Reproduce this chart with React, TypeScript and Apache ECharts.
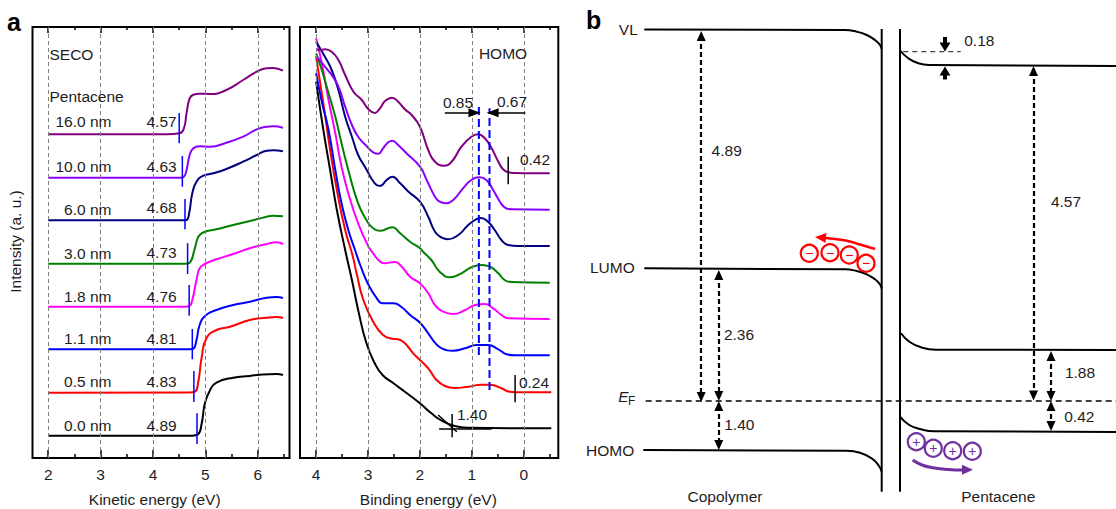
import React, { useEffect, useRef } from "react";
import * as echarts from "echarts";

const FONT = "'Liberation Sans', Arial, sans-serif";
const INK = "#1f1c1d";

// ---- Panel a, left: secondary electron cut-off (kinetic energy eV, intensity a.u.)
const seco00 = [[2, 22.3], [4.75, 22.3], [4.86, 23.7], [4.93, 34.7], [4.99, 54.7], [5.09, 68], [5.21, 75.3], [5.53, 80.3], [5.85, 82], [6.04, 83.3], [6.36, 84], [6.48, 83]];
const seco05 = [[2, 65.3], [4.7, 65.5], [4.8, 66.3], [4.86, 74.7], [4.93, 101], [5.02, 119.7], [5.21, 128], [5.47, 131.3], [5.85, 138], [6.17, 140.3], [6.36, 141], [6.48, 140]];
const seco11 = [[2, 108.7], [4.7, 108.7], [4.77, 109.3], [4.83, 118], [4.89, 133], [4.99, 142], [5.21, 148], [5.53, 153], [5.85, 156.3], [6.17, 160.3], [6.36, 161], [6.48, 160]];
const seco18 = [[2, 151.3], [4.62, 151.3], [4.7, 152.3], [4.75, 158], [4.83, 178], [4.89, 189.7], [4.99, 194], [5.21, 198.7], [5.53, 204], [5.85, 209.7], [6.17, 214], [6.36, 215.7], [6.48, 214]];
const seco30 = [[2, 194.3], [4.62, 194.3], [4.7, 195.3], [4.79, 208], [4.84, 218], [4.89, 223], [4.99, 226.3], [5.21, 228.7], [5.53, 233], [5.85, 237], [6.17, 241.3], [6.29, 242.3], [6.48, 241.7]];
const seco60 = [[2, 237.7], [4.58, 237.7], [4.64, 238], [4.69, 244.7], [4.75, 264.7], [4.83, 276.3], [4.96, 282.3], [5.15, 284.7], [5.4, 289], [5.72, 296.3], [5.98, 303], [6.17, 307.3], [6.29, 307.7], [6.48, 306.7]];
const seco100 = [[2, 280.3], [4.52, 280.3], [4.59, 281.3], [4.64, 288], [4.7, 303], [4.77, 309.7], [4.89, 311.7], [5.09, 311.3], [5.4, 315.3], [5.72, 321.3], [5.98, 328.7], [6.17, 331.3], [6.29, 331.7], [6.48, 330.3]];
const seco160 = [[2, 323.7], [4.26, 323.7], [4.51, 324.7], [4.59, 329.7], [4.64, 344.7], [4.7, 359.7], [4.77, 363.3], [4.89, 364.3], [5.09, 364], [5.4, 368], [5.72, 378], [5.98, 386.3], [6.17, 389.7], [6.29, 390], [6.48, 387.3]];

// ---- Panel a, right: HOMO region (binding energy eV, intensity a.u.)
const homo00 = [[4, 376.3], [3.86, 328], [3.73, 288], [3.6, 248], [3.44, 208], [3.31, 178], [3.19, 148], [3.03, 114.7], [2.87, 94.7], [2.72, 83], [2.51, 74.7], [2.29, 66.3], [2, 54.7], [1.78, 44.7], [1.58, 37.3], [1.33, 32], [1.07, 30.3], [-0.53, 29.7]];
const homo05 = [[4, 401.3], [3.86, 354.7], [3.73, 308], [3.6, 268], [3.44, 228], [3.3, 203], [3.22, 184.7], [3.09, 158], [2.9, 136.3], [2.71, 123], [2.54, 119.3], [2.42, 118.7], [2.29, 114.7], [2.13, 104.7], [2, 98], [1.84, 89.7], [1.68, 78], [1.52, 72], [1.33, 70], [1.07, 71.3], [0.81, 73.3], [0.65, 73.3], [0.43, 69.7], [0.27, 66.3], [0.04, 65.7], [-0.53, 65.7]];
const homo11 = [[4, 384.7], [3.89, 356.3], [3.76, 328], [3.63, 288], [3.51, 254.7], [3.38, 228], [3.25, 208], [3.15, 193], [2.99, 173], [2.83, 159.7], [2.72, 154.7], [2.51, 154.7], [2.35, 150.7], [2.19, 143], [2, 135.3], [1.84, 124.7], [1.71, 115.3], [1.58, 109.7], [1.36, 107.3], [1.13, 109.7], [0.91, 113], [0.69, 113], [0.49, 108.7], [0.33, 103.7], [0.17, 102.7], [-0.5, 102.7]];
const homo18 = [[4, 419.7], [3.89, 394.7], [3.76, 358], [3.63, 324.7], [3.51, 291.3], [3.38, 264.7], [3.19, 234.7], [2.99, 211.3], [2.9, 204.7], [2.8, 198], [2.69, 194.7], [2.48, 196], [2.35, 191.3], [2.19, 181.3], [2, 174.7], [1.84, 164.7], [1.71, 153], [1.55, 146.3], [1.36, 144], [1.13, 148], [0.94, 153], [0.75, 154], [0.59, 149.7], [0.43, 143], [0.3, 139.7], [-0.5, 139]];
const homo30 = [[4, 404.7], [3.89, 388], [3.76, 364.7], [3.63, 341.3], [3.51, 314.7], [3.38, 288], [3.19, 254.7], [3.03, 238], [2.9, 229.7], [2.75, 227.3], [2.64, 229.3], [2.53, 230.7], [2.38, 224.7], [2.19, 216.3], [2, 209.7], [1.94, 206.3], [1.78, 198], [1.62, 186.3], [1.42, 180.7], [1.2, 184.7], [1.01, 190.7], [0.81, 193], [0.65, 191.3], [0.49, 184.7], [0.37, 178], [0.24, 176], [-0.5, 175.3]];
const homo60 = [[4, 416.3], [3.83, 401.3], [3.7, 388], [3.57, 368], [3.44, 341.3], [3.31, 321.3], [3.19, 303], [3.06, 291.3], [2.87, 274.7], [2.77, 272], [2.64, 278], [2.53, 281.3], [2.38, 274.7], [2.22, 266.3], [2, 256.3], [1.84, 241.3], [1.71, 226.3], [1.58, 220.3], [1.46, 218.7], [1.26, 223], [1.07, 233], [0.94, 238], [0.83, 240], [0.69, 236.3], [0.56, 228], [0.43, 218], [0.3, 213], [0.11, 212], [-0.5, 212]];
const homo100 = [[4, 402], [3.83, 391.3], [3.7, 383], [3.57, 371.3], [3.44, 351.3], [3.31, 333], [3.19, 321.3], [3.03, 312], [2.9, 305.7], [2.8, 304.3], [2.71, 309.7], [2.61, 315.7], [2.53, 317.3], [2.42, 313], [2.26, 304.7], [2, 291.3], [1.87, 278], [1.71, 261.3], [1.62, 256.3], [1.5, 254.7], [1.36, 258], [1.17, 269.7], [1.01, 278], [0.85, 280.7], [0.72, 278], [0.59, 268], [0.46, 256.3], [0.37, 250.7], [0.24, 248.7], [-0.5, 248.3]];
const homo160 = [[4, 408.7], [3.92, 408], [3.83, 408.7], [3.7, 406.3], [3.57, 398], [3.44, 383], [3.28, 366.3], [3.12, 358], [2.99, 348.7], [2.87, 345], [2.77, 349.7], [2.67, 357], [2.54, 360.3], [2.42, 356.3], [2.29, 348.7], [2.16, 343], [2, 331.3], [1.84, 308], [1.71, 296.3], [1.54, 292.3], [1.39, 296.3], [1.2, 311.3], [1.01, 321.3], [0.88, 323.7], [0.75, 319.7], [0.62, 309.7], [0.49, 296.3], [0.4, 288.7], [0.3, 285.7], [0.17, 285], [-0.21, 284.7], [-0.5, 284.7]];

const curveColors = ["#000000", "#ff0000", "#0000ff", "#ff00ff", "#008000", "#000080", "#8a00ff", "#800080"];
const secoCurves = [seco00, seco05, seco11, seco18, seco30, seco60, seco100, seco160];
const homoCurves = [homo00, homo05, homo11, homo18, homo30, homo60, homo100, homo160];

const thicknessLabels = ["16.0 nm", "10.0 nm", "6.0 nm", "3.0 nm", "1.8 nm", "1.1 nm", "0.5 nm", "0.0 nm"];
const thicknessY = [121.7, 166.7, 209.3, 253, 296.7, 338.3, 381.7, 425];
const secoValues = ["4.57", "4.63", "4.68", "4.73", "4.76", "4.81", "4.83", "4.89"];
const secoValueY = [121.7, 166, 207.5, 252.7, 296.7, 338.3, 381.7, 425];

// Cut-off markers: x (eV), y from, y to
const cutoffMarks = [[4.5, 314.7, 345], [4.56, 271.3, 302], [4.61, 228.7, 259], [4.66, 184, 214.7], [4.69, 142.3, 173], [4.75, 98.7, 129], [4.78, 56, 87], [4.84, 14, 44.7]];
const kineticMajor = [2, 3, 4, 5, 6];
const kineticMinor = [2.5, 3.5, 4.5, 5.5, 6.5];
const bindingMajor = [4, 3, 2, 1, 0];
const bindingMinor = [3.5, 2.5, 1.5, 0.5, -0.5];

const homoEdgeDashes = [[0.865, 103, 351.3], [0.66, 68, 349.7]];
const homoBlackLines = [
  [[0.3, 273.7], [0.3, 301.3]],
  [[0.167, 55.7], [0.167, 83]],
  [[1.38, 20.7], [1.38, 44]],
  [[1.63, 29], [0.62, 29]],
  [[1.65, 43], [1.29, 26.3]],
];

// ---- Panel b: schematic band diagram (schematic units on a hidden scale)
const vlCopolymer = [[644.3, 29.5], [845, 30], [856.7, 31.7], [866.7, 35], [875, 40], [880, 45], [881.7, 49.3]];
const lumoCopolymer = [[644.3, 268.3], [845, 269.3], [856.7, 271], [866.7, 274.3], [875, 279.3], [880, 284.3], [881.7, 288.6]];
const homoCopolymer = [[643.3, 450], [846.7, 450.7], [860, 452.7], [871.7, 458.3], [878.3, 465], [881.7, 471.7]];
const vlPentacene = [[899.7, 50], [908.3, 58.3], [918.3, 63.3], [930, 65], [1116, 66]];
const lumoPentacene = [[901, 333.3], [909.3, 341.7], [921, 347.3], [936, 349.7], [1116, 350]];
const homoPentacene = [[900, 416.7], [909.3, 425], [921, 429.3], [934.3, 431.3], [1116, 432]];
const interfaceLines = [[[881.7, 29], [881.7, 491.7]], [[900, 29], [900, 491.7]]];
const fermiLevel = [[645.7, 401], [1116, 401]];
const vlDash = [[903.3, 51.7], [960.7, 51.7]];
const gapArrows = [
  [[701.2, 36], [701.2, 397]],
  [[718.8, 275], [718.8, 396]],
  [[718.8, 406], [718.8, 445]],
  [[1033.5, 71], [1033.5, 395.5]],
  [[1051, 356], [1051, 396]],
  [[1051, 406], [1051, 426]],
];
const thickShafts = [
  [[945, 37], [945, 46]],
  [[945, 79.5], [945, 72]],
];
const thickHeadDown = [945, 47];
const thickHeadUp = [945, 71];
const electrons = [[809.3, 253.3], [830, 252.7], [849.3, 255], [866, 263.3]];
const holes = [[916.3, 441.7], [933.3, 448.3], [952.7, 450.7], [972.3, 451.3]];
const electronFlow = [[875, 249], [860, 244.5], [846.7, 240.7], [830, 238.5], [822, 237.7]];
const holeFlow = [[912.7, 460], [922, 465], [932.7, 467.7], [948, 469.5], [963, 470]];

function xAxes(gridIndex: number, min: number, max: number, inverse: boolean, major: number[], minor: number[]) {
  const common = { type: "value", gridIndex, min, max, inverse, axisLine: { show: false }, splitLine: { show: false } };
  const tick = (values: number[], length: number) => ({ show: true, inside: true, length, customValues: values, lineStyle: { color: "#000", width: 1.5 } });
  return [
    { ...common, position: "bottom", axisTick: tick(major, 8), axisLabel: { show: true, customValues: major, margin: 8, color: INK, fontFamily: FONT, fontSize: 15.5 } },
    { ...common, position: "bottom", axisTick: tick(minor, 4), axisLabel: { show: false } },
    { ...common, position: "top", axisTick: tick(major, 6), axisLabel: { show: false } },
    { ...common, position: "top", axisTick: tick(minor, 3), axisLabel: { show: false } },
  ];
}

function curve(data: number[][], color: string, xAxisIndex: number, yAxisIndex: number, width = 2, smooth: number | boolean = 0.5) {
  return { type: "line", data, xAxisIndex, yAxisIndex, smooth, showSymbol: false, symbol: "none", silent: true, z: 3, lineStyle: { color, width } };
}
function straight(data: number[][], color: string, xAxisIndex: number, yAxisIndex: number, width = 1.5, type: any = "solid") {
  return { type: "line", data, xAxisIndex, yAxisIndex, showSymbol: false, symbol: "none", silent: true, z: 4, lineStyle: { color, width, type } };
}
function gridLines(values: number[], xAxisIndex: number, yAxisIndex: number) {
  return {
    type: "line", data: [], xAxisIndex, yAxisIndex, silent: true, z: 1,
    markLine: { silent: true, symbol: "none", animation: false, label: { show: false }, lineStyle: { color: "#7f7f7f", width: 1, type: [4, 3] }, data: values.map((v) => ({ xAxis: v })) },
  };
}
function arrows(pairs: number[][][], width: number, type: any, size: any) {
  return {
    type: "line", data: [], xAxisIndex: 8, yAxisIndex: 2, silent: true, z: 5,
    markLine: {
      silent: true, animation: false, symbol: ["triangle", "triangle"], symbolSize: size, precision: 3,
      label: { show: false }, lineStyle: { color: "#000", width, type },
      data: pairs.map(([a, b]) => [{ coord: a }, { coord: b }]),
    },
  };
}
function charges(points: number[][], color: string, sign: string) {
  return {
    type: "scatter", data: points, xAxisIndex: 8, yAxisIndex: 2, symbol: "circle", symbolSize: 17, silent: true, z: 6,
    itemStyle: { color: "rgba(255,255,255,0)", borderColor: color, borderWidth: 2.2, opacity: 1 },
    label: { show: true, position: "inside", formatter: sign, color, fontFamily: FONT, fontSize: 14 },
  };
}
function head(point: number[], color: string, rotate: number, size: number[] = [10, 11]) {
  return { type: "scatter", data: [point], xAxisIndex: 8, yAxisIndex: 2, symbol: "triangle", symbolSize: size, symbolRotate: rotate, silent: true, z: 6, itemStyle: { color, opacity: 1 } };
}
function txt(text: string, x: number, y: number, extra: any = {}) {
  const { size = 15.5, weight = "normal", style = "normal", align = "left", rotation = 0, fill = INK } = extra;
  return {
    type: "text", x, y, rotation, silent: true, z: 20,
    style: { text, x: 0, y: 0, fill, textAlign: align, textVerticalAlign: "middle", font: `${style} ${weight} ${size}px ${FONT}` },
  };
}

export default function App() {
  const ref = useRef<HTMLDivElement>(null);
  useEffect(() => {
    document.body.style.margin = "0";
    document.body.style.background = "#fff";
    const chart = echarts.init(ref.current!, undefined, { renderer: "svg" });
    const series: any[] = [
      gridLines(kineticMajor, 0, 0),
      gridLines(bindingMajor, 4, 1),
      ...secoCurves.map((d, i) => curve(d, curveColors[i], 0, 0)),
      ...homoCurves.map((d, i) => curve(d, curveColors[i], 4, 1)),
      ...cutoffMarks.map(([x, a, b]) => straight([[x, a], [x, b]], "#0000ff", 0, 0, 1.5)),
      ...homoEdgeDashes.map(([x, a, b]) => straight([[x, a], [x, b]], "#0000ff", 4, 1, 2, "dashed")),
      ...homoBlackLines.map((d) => straight(d, "#000", 4, 1, 1.5)),
      {
        type: "line", data: [], xAxisIndex: 4, yAxisIndex: 1, silent: true, z: 5,
        markLine: {
          silent: true, animation: false, symbol: ["none", "triangle"], symbolSize: [9, 12], precision: 3, label: { show: false },
          lineStyle: { color: "#000", width: 1.5, type: "solid" },
          data: [
            [{ coord: [1.52, 345.3] }, { coord: [0.95, 345.3] }],
            [{ coord: [-0.03, 345.3] }, { coord: [0.6, 345.3] }],
          ],
        },
      },
      curve(vlCopolymer, "#000", 8, 2),
      curve(lumoCopolymer, "#000", 8, 2),
      curve(homoCopolymer, "#000", 8, 2),
      curve(vlPentacene, "#000", 8, 2),
      curve(lumoPentacene, "#000", 8, 2),
      curve(homoPentacene, "#000", 8, 2),
      ...interfaceLines.map((d) => straight(d, "#000", 8, 2, 2)),
      straight(fermiLevel, "#000", 8, 2, 1.5, [6, 4]),
      straight(vlDash, "#444", 8, 2, 1.2, [5, 4]),
      arrows(gapArrows, 2.2, [5, 3], [9, 10]),
      ...thickShafts.map((d) => straight(d, "#000", 8, 2, 4)),
      head(thickHeadDown, "#000", 180, [11, 9]),
      head(thickHeadUp, "#000", 0, [11, 9]),
      charges(electrons, "#ff0000", "−"),
      charges(holes, "#7030a0", "+"),
      curve(electronFlow, "#ff0000", 8, 2, 2.5),
      head([820.5, 237.5], "#ff0000", 85),
      curve(holeFlow, "#7030a0", 8, 2, 3),
      head([967.5, 469.8], "#7030a0", -90),
    ];
    const graphic = [
      txt("a", 7, 22, { size: 25, weight: "bold", fill: "#000" }),
      txt("b", 586, 20, { size: 25, weight: "bold", fill: "#000" }),
      txt("SECO", 49.5, 54),
      txt("Pentacene", 49.5, 96),
      txt("HOMO", 503, 53, { align: "center" }),
      ...thicknessLabels.map((s, i) => txt(s, 111.5, thicknessY[i], { align: "right" })),
      ...secoValues.map((s, i) => txt(s, 146.5, secoValueY[i])),
      txt("0.85", 458, 102, { align: "center" }),
      txt("0.67", 512, 101, { align: "center" }),
      txt("0.42", 535, 159, { align: "center" }),
      txt("0.24", 534, 382, { align: "center" }),
      txt("1.40", 472, 414, { align: "center" }),
      txt("Kinetic energy (eV)", 154.7, 499, { align: "center" }),
      txt("Binding energy (eV)", 428.3, 499, { align: "center" }),
      txt("Intensity (a. u.)", 15, 241.5, { align: "center", rotation: Math.PI / 2 }),
      txt("VL", 628.3, 29.3, { align: "center" }),
      txt("LUMO", 612.3, 267.7, { align: "center" }),
      txt("HOMO", 634.3, 450.7, { align: "right" }),
      txt("E", 623.3, 396, { align: "center", style: "italic" }),
      txt("F", 631.7, 401, { align: "center", size: 12 }),
      txt("4.89", 726.7, 150.7, { align: "center" }),
      txt("2.36", 739, 334, { align: "center" }),
      txt("1.40", 739.3, 424, { align: "center" }),
      txt("4.57", 1066, 201, { align: "center" }),
      txt("1.88", 1080, 372.7, { align: "center" }),
      txt("0.42", 1079.3, 416, { align: "center" }),
      txt("0.18", 979.3, 40, { align: "center" }),
      txt("Copolymer", 725, 496.7, { align: "center" }),
      txt("Pentacene", 998.3, 496.7, { align: "center" }),
    ];
    chart.setOption({
      animation: false,
      backgroundColor: "#fff",
      tooltip: { show: false },
      grid: [
        { left: 32.5, top: 27, width: 257, height: 431, show: true, borderColor: "#000", borderWidth: 2, backgroundColor: "transparent", containLabel: false },
        { left: 300, top: 27, width: 258.3, height: 431, show: true, borderColor: "#000", borderWidth: 2, backgroundColor: "transparent", containLabel: false },
        { left: 0, top: 0, width: 1116, height: 509, show: false, containLabel: false },
      ],
      xAxis: [
        ...xAxes(0, 1.7, 6.605, false, kineticMajor, kineticMinor),
        ...xAxes(1, -0.665, 4.31, true, bindingMajor, bindingMinor),
        { type: "value", gridIndex: 2, min: 0, max: 1116, show: false },
      ],
      yAxis: [
        { type: "value", gridIndex: 0, min: 0, max: 431, show: false },
        { type: "value", gridIndex: 1, min: 0, max: 431, show: false },
        { type: "value", gridIndex: 2, min: 0, max: 509, inverse: true, show: false },
      ],
      series,
      graphic,
    });
    return () => chart.dispose();
  }, []);
  return <div ref={ref} style={{ width: 1116, height: 509 }} />;
}
